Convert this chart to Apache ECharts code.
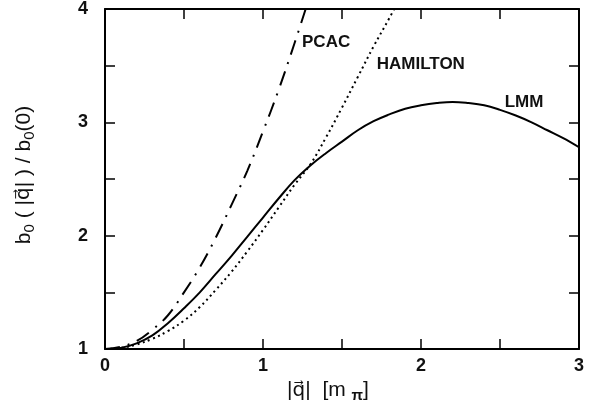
<!DOCTYPE html>
<html>
<head>
<meta charset="utf-8">
<script src="https://cdn.jsdelivr.net/npm/echarts@6/dist/echarts.min.js"></script>
<style>
  html, body { margin: 0; padding: 0; background: #fff; }
  #chart { width: 596px; height: 412px; }
</style>
</head>
<body>
<div id="chart"></div>
<script>
// |q| in units of m_pi, and b0(|q|)/b0(0)
const qLmm = [0, 0.1, 0.2, 0.3, 0.4, 0.5, 0.6, 0.7, 0.8, 0.9, 1.0, 1.1, 1.2, 1.3, 1.4, 1.5,
  1.6, 1.7, 1.8, 1.9, 2.0, 2.1, 2.2, 2.3, 2.4, 2.5, 2.6, 2.7, 2.8, 2.9, 3.0]
const lmm = [1.00, 1.01, 1.05, 1.12, 1.23, 1.36, 1.50, 1.66, 1.82, 1.99, 2.16, 2.33, 2.49, 2.62, 2.73, 2.83,
  2.93, 3.01, 3.07, 3.12, 3.15, 3.17, 3.18, 3.17, 3.15, 3.11, 3.06, 3.00, 2.93, 2.86, 2.78]

const qHam = [0, 0.1, 0.2, 0.3, 0.4, 0.5, 0.6, 0.7, 0.8, 0.9, 1.0, 1.1, 1.2, 1.3, 1.4, 1.5,
  1.6, 1.7, 1.8, 1.83]
const hamilton = [1.00, 1.01, 1.04, 1.09, 1.16, 1.25, 1.37, 1.52, 1.68, 1.86, 2.05, 2.25, 2.45, 2.63, 2.87, 3.13,
  3.40, 3.67, 3.92, 4.00]

const qPcac = [0, 0.1, 0.2, 0.3, 0.4, 0.5, 0.6, 0.7, 0.8, 0.9, 1.0, 1.1, 1.2, 1.27]
const pcac = [1.00, 1.02, 1.07, 1.17, 1.30, 1.50, 1.72, 1.98, 2.27, 2.57, 2.92, 3.29, 3.70, 4.00]

const xTicks = [0, 1, 2, 3]
const yTicks = [1, 2, 3, 4]

const pairs = (xs, ys) => xs.map((x, i) => [x, ys[i]])

const font = 'Liberation Sans, Arial, sans-serif'
const vecFont = 'DejaVu Sans, Noto Sans, sans-serif'
const frame = { onZero: false, lineStyle: { color: '#000', width: 2 } }
const ticks = { inside: true, length: 10, lineStyle: { color: '#000', width: 1.5 } }
const tickFont = { color: '#111', fontFamily: font, fontSize: 18, fontWeight: 'bold' }

// rich styles shared by both axis titles
const titleRich = {
  b: { fontFamily: font, fontSize: 21, color: '#111', lineHeight: 26, letterSpacing: 1 },
  v: { fontFamily: vecFont, fontSize: 20, color: '#111', lineHeight: 26 },
  s: { fontFamily: font, fontSize: 15, color: '#111', lineHeight: 15, verticalAlign: 'bottom' },
  sb: { fontFamily: font, fontSize: 15, fontWeight: 'bold', color: '#111', lineHeight: 15, verticalAlign: 'bottom' }
}

function curveLabel(text, coord) {
  return {
    symbol: 'circle',
    symbolSize: 0,
    silent: true,
    label: {
      show: true,
      position: 'right',
      distance: 0,
      formatter: text,
      color: '#111',
      fontFamily: font,
      fontSize: 17,
      fontWeight: 'bold',
      letterSpacing: 1.5
    },
    data: [{ coord: coord }]
  }
}

const chart = echarts.init(document.getElementById('chart'))
chart.setOption({
  animation: false,
  backgroundColor: '#fff',
  grid: { left: 105, right: 17, top: 6, bottom: 63 },
  xAxis: [
    {
      type: 'value', min: 0, max: 3, interval: 0.5, position: 'bottom',
      axisLine: frame, axisTick: ticks, splitLine: { show: false },
      axisLabel: Object.assign({
        margin: 8,
        formatter: v => xTicks.includes(v) ? String(v) : ''
      }, tickFont),
      name: '{b||}{v|q\u20D7}{b||  [m }{sb|\u03C0}{b|]}',
      nameLocation: 'middle',
      nameGap: 28,
      nameTextStyle: { padding: [0, 28, 0, 0], rich: titleRich }
    },
    {
      type: 'value', min: 0, max: 3, interval: 0.5, position: 'top',
      axisLine: frame, axisTick: ticks, splitLine: { show: false },
      axisLabel: { show: false }
    }
  ],
  yAxis: [
    {
      type: 'value', min: 1, max: 4, interval: 0.5, position: 'left',
      axisLine: frame, axisTick: ticks, splitLine: { show: false },
      axisLabel: Object.assign({
        margin: 17,
        formatter: v => yTicks.includes(v) ? String(v) : ''
      }, tickFont),
      name: '{b|b}{s|0}{b| ( |}{v|q\u20D7}{b|| ) / b}{s|0}{b|(0)}',
      nameLocation: 'middle',
      nameRotate: 90,
      nameGap: 68,
      nameTextStyle: { padding: [0, 0, 0, 8], rich: titleRich }
    },
    {
      type: 'value', min: 1, max: 4, interval: 0.5, position: 'right',
      axisLine: frame, axisTick: ticks, splitLine: { show: false },
      axisLabel: { show: false }
    }
  ],
  series: [
    {
      name: 'LMM', type: 'line', data: pairs(qLmm, lmm),
      showSymbol: false, smooth: 0.4, clip: true,
      lineStyle: { color: '#000', width: 2 },
      markPoint: curveLabel('LMM', [2.53, 3.18])
    },
    {
      name: 'HAMILTON', type: 'line', data: pairs(qHam, hamilton),
      showSymbol: false, smooth: 0.4, clip: true,
      lineStyle: { color: '#000', width: 2, type: [2, 3.5] },
      markPoint: curveLabel('HAMILTON', [1.72, 3.515])
    },
    {
      name: 'PCAC', type: 'line', data: pairs(qPcac, pcac),
      showSymbol: false, smooth: 0.4, clip: true,
      lineStyle: { color: '#000', width: 2, type: [15, 8, 2, 8] },
      markPoint: curveLabel('PCAC', [1.247, 3.71])
    }
  ]
})
</script>
</body>
</html>
